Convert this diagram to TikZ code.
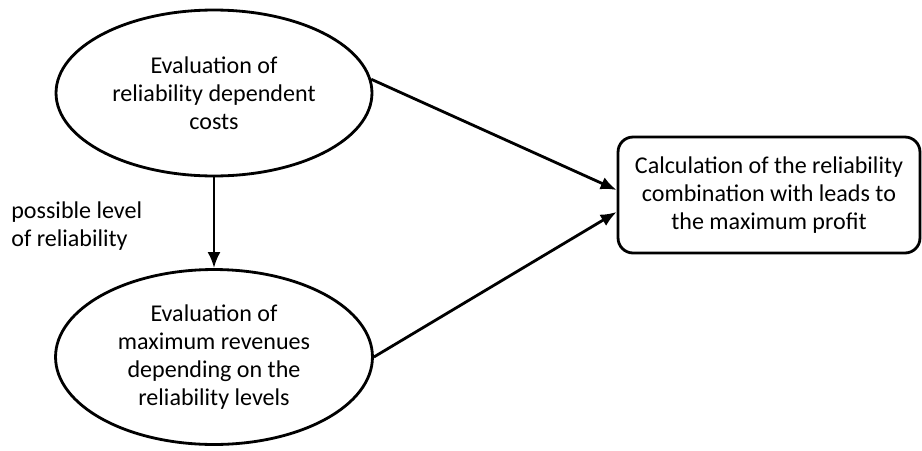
\documentclass[tikz,border=0pt]{standalone}
\usepackage{fontspec}
\setmainfont{Carlito}
\usetikzlibrary{positioning, arrows.meta, shapes.geometric}

\tikzset{
	stage/.style={ellipse, draw, line width=1.6pt, align=center, inner sep=0pt},
	result/.style={rectangle, rounded corners=0.3cm, draw, line width=1.6pt, align=center,
		minimum width=6.04cm, minimum height=2.32cm},
	flow/.style={-{Latex[length=0.32cm,width=0.26cm]}, line width=1.6pt}
}

\begin{document}
\begin{tikzpicture}[x=0.02cm, y=-0.02cm, font=\fontsize{13.7pt}{15.8pt}\selectfont]
	\useasboundingbox (0,0) rectangle (922,450);

	\node[stage, minimum width=6.32cm, minimum height=3.32cm] (cost) at (214,93)
		{Evaluation of\\reliability dependent\\costs};
	\node[stage, minimum width=6.34cm, minimum height=3.5cm] (rev) at (214,357)
		{Evaluation of\\maximum revenues\\depending on the\\reliability levels};
	\node[result] (calc) at (769,195)
		{Calculation of the reliability\\combination with leads to\\the maximum profit};
	\node[anchor=west, align=left, inner sep=0pt] (lvl) at (11,226)
		{possible level\\of reliability};

	\draw[flow] (cost) -- (rev);
	\draw[flow] (cost.5) -- ([yshift=0.1cm]calc.west);
	\draw[flow] (rev.east) -- ([yshift=-0.34cm]calc.west);

\end{tikzpicture}
\end{document}
